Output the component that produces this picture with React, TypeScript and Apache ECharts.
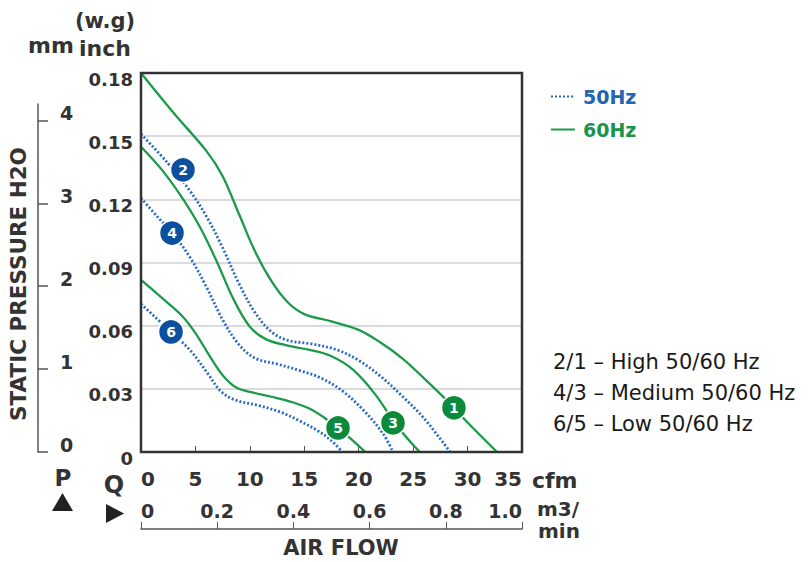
import React, { useEffect, useRef } from "react";
import * as echarts from "echarts";

// ---- data (x: cfm, y: inch H2O) ----
const cfmTicks = [0, 5, 10, 15, 20, 25, 30, 35];
const inchTicks = [0, 0.03, 0.06, 0.09, 0.12, 0.15, 0.18];
const mmTicks = [0, 1, 2, 3, 4];
const m3Ticks = [0, 0.2, 0.4, 0.6, 0.8, 1.0];

const curve1_60Hz_high = [[0, 0.18], [3, 0.161], [6, 0.143], [7.5, 0.131], [9, 0.113], [10.5, 0.095], [12, 0.081], [13.5, 0.071], [15, 0.0655], [17.5, 0.062], [20, 0.058], [22, 0.052], [24, 0.0445], [26, 0.035], [28, 0.025], [30, 0.014], [32.7, 0]];
const curve2_50Hz_high = [[0, 0.151], [2.5, 0.137], [4.5, 0.124], [6, 0.112], [7.5, 0.097], [9, 0.08], [10.5, 0.066], [12, 0.057], [13.5, 0.053], [15.5, 0.0515], [18, 0.0485], [20, 0.0435], [22, 0.036], [24, 0.0265], [26, 0.016], [28.4, 0]];
const curve3_60Hz_med = [[0, 0.145], [2, 0.1335], [4, 0.119], [5.5, 0.106], [7, 0.09], [8.5, 0.0725], [10, 0.0595], [11.5, 0.0535], [13.5, 0.0505], [15.5, 0.0485], [17.5, 0.0455], [19.5, 0.039], [21.5, 0.0275], [23.5, 0.0125], [25.6, 0]];
const curve4_50Hz_med = [[0, 0.1206], [1.5, 0.1118], [3, 0.1032], [4.5, 0.0925], [6, 0.0785], [7.5, 0.0628], [9, 0.051], [10.5, 0.0445], [12.5, 0.0418], [14.5, 0.0388], [16.5, 0.0352], [18.5, 0.029], [20.5, 0.0195], [22.2, 0.009], [23.15, 0]];
const curve5_60Hz_low = [[0, 0.0817], [2, 0.0728], [3.8, 0.0645], [5, 0.0565], [6.2, 0.0465], [7.5, 0.0365], [8.8, 0.0305], [10.3, 0.0282], [12.2, 0.026], [14, 0.0235], [15.5, 0.0205], [17, 0.0157], [18.5, 0.0098], [20.6, 0]];
const curve6_50Hz_low = [[0, 0.0703], [2.76, 0.057], [4.5, 0.0484], [6.1, 0.0375], [7.3, 0.029], [8.6, 0.0248], [10.7, 0.0222], [12.8, 0.019], [14.6, 0.0147], [16.2, 0.0102], [17.4, 0.0058], [18.5, 0]];

const blueMarkerLabels = ["2", "4", "6"];
const blueMarkerPos = [[3.86, 0.134], [2.85, 0.104], [2.76, 0.057]];
const greenMarkerLabels = ["1", "3", "5"];
const greenMarkerPos = [[28.75, 0.021], [23.15, 0.0138], [18.1, 0.0114]];

const legendNames = ["50Hz", "60Hz"];
const noteLines = ["2/1 – High 50/60 Hz", "4/3 – Medium 50/60 Hz", "6/5 – Low 50/60 Hz"];

const FONT = "DejaVu Sans";
const BLUE = "#2a6cc4";
const GREEN = "#1b9a4b";
const BLUE_DARK = "#0d4f9f";
const GREEN_DARK = "#0b8a3c";
const TXT = "#333";

export default function App() {
  const ref = useRef<HTMLDivElement>(null);
  useEffect(() => {
    if (!ref.current) return;
    const chart = echarts.init(ref.current, null, { renderer: "svg" });
    const solid = (name: string, data: number[][]) => ({
      type: "line", name, data, symbol: "none", smooth: 0.35,
      lineStyle: { color: GREEN, width: 2.3 }, itemStyle: { color: GREEN }, z: 3,
    });
    const dotted = (name: string, data: number[][]) => ({
      type: "line", name, data, symbol: "none", smooth: 0.35,
      lineStyle: { color: BLUE, width: 2.8, type: [2, 2] }, itemStyle: { color: BLUE }, z: 3,
    });
    const markers = (labels: string[], pos: number[][], color: string) => ({
      type: "scatter", name: "m" + labels[0], silent: true, symbol: "circle", symbolSize: 25, z: 6,
      data: labels.map((l, i) => ({ name: l, value: pos[i] })),
      itemStyle: { color, borderColor: "#fff", borderWidth: 1.5, opacity: 1 },
      label: { show: true, position: "inside", formatter: "{b}", color: "#fff", fontWeight: "bold", fontSize: 14, fontFamily: FONT },
    });
    const boldText = (text: string, x: number, y: number, size: number, align = "center") => ({
      type: "text", x, y,
      style: { text, fill: TXT, font: `bold ${size}px "${FONT}"`, textAlign: align, textVerticalAlign: "middle" },
    });
    const option: any = {
      animation: false,
      backgroundColor: "#fff",
      grid: [
        { left: 141, top: 73, width: 381, height: 379, show: true, borderColor: "#333", borderWidth: 2.5, z: 4 },
        { left: 38, top: 104, width: 10, height: 348 },
      ],
      legend: {
        data: [
          { name: legendNames[0], textStyle: { color: "#2563b3" } },
          { name: legendNames[1], textStyle: { color: "#1b944a" } },
        ],
        orient: "vertical", left: 545, top: 82, itemWidth: 24, itemHeight: 14, itemGap: 14,
        itemStyle: { opacity: 0, borderWidth: 0 },
        textStyle: { fontFamily: FONT, fontWeight: "bold", fontSize: 19, padding: [0, 0, 0, 3] },
        selectedMode: false,
      },
      xAxis: [
        {
          type: "value", gridIndex: 0, min: 0, max: 35, interval: 5,
          axisLine: { show: true, onZero: false, lineStyle: { color: "#333", width: 2 } },
          axisTick: { show: true, inside: true, length: 6, lineStyle: { color: "#555" }, customValues: cfmTicks },
          axisLabel: { margin: 17, fontSize: 20, fontWeight: "bold", fontFamily: FONT, color: TXT, customValues: cfmTicks, showMinLabel: true, showMaxLabel: true, alignMinLabel: "left", alignMaxLabel: "right" },
          splitLine: { show: false },
        },
        {
          type: "value", gridIndex: 0, position: "bottom", offset: 77, min: 0, max: 1, interval: 0.2,
          axisLine: { show: true, onZero: false, lineStyle: { color: "#555", width: 1.5 } },
          axisTick: { show: true, inside: true, length: 7, lineStyle: { color: "#555" }, customValues: m3Ticks },
          axisLabel: { inside: true, margin: 9, fontSize: 19, fontWeight: "bold", fontFamily: FONT, color: TXT, customValues: m3Ticks,
            formatter: (v: number) => (v === 0 ? "0" : v.toFixed(1)), showMinLabel: true, showMaxLabel: true, alignMinLabel: "left", alignMaxLabel: "right" },
          splitLine: { show: false },
        },
        { type: "value", gridIndex: 1, show: false, min: 0, max: 1 },
      ],
      yAxis: [
        {
          type: "value", gridIndex: 0, min: 0, max: 0.18, interval: 0.03,
          axisLine: { show: true, lineStyle: { color: "#333", width: 2 } },
          axisTick: { show: false },
          axisLabel: { margin: 8, fontSize: 18, fontWeight: "bold", fontFamily: FONT, color: TXT, verticalAlign: "top", lineHeight: 12, customValues: inchTicks,
            formatter: (v: number) => (v === 0 ? "0" : v.toFixed(2)) },
          splitLine: { show: true, showMinLine: false, showMaxLine: false, lineStyle: { color: "#cfcfcf", width: 1.5 } },
        },
        {
          type: "value", gridIndex: 1, position: "left", min: 0, max: 4.198, interval: 1,
          axisLine: { show: true, lineStyle: { color: "#555", width: 1.5 } },
          axisTick: { show: true, inside: true, length: 10, lineStyle: { color: "#555", width: 1.5 }, customValues: mmTicks },
          axisLabel: { inside: true, margin: 22, fontSize: 19, fontWeight: "bold", fontFamily: FONT, color: TXT, verticalAlign: "bottom", lineHeight: 14, customValues: mmTicks,
            formatter: (v: number) => (Number.isInteger(v) ? String(v) : "") },
          splitLine: { show: false },
        },
      ],
      series: [
        solid(legendNames[1], curve1_60Hz_high),
        dotted(legendNames[0], curve2_50Hz_high),
        solid(legendNames[1], curve3_60Hz_med),
        dotted(legendNames[0], curve4_50Hz_med),
        solid(legendNames[1], curve5_60Hz_low),
        dotted(legendNames[0], curve6_50Hz_low),
        markers(blueMarkerLabels, blueMarkerPos, BLUE_DARK),
        markers(greenMarkerLabels, greenMarkerPos, GREEN_DARK),
      ],
      graphic: [
        boldText("(w.g)", 105, 21, 21),
        boldText("mm", 51, 45, 22),
        boldText("inch", 105, 48, 22),
        {
          type: "text", x: 18, y: 284, rotation: Math.PI / 2,
          style: { text: "STATIC PRESSURE H2O", fill: TXT, font: `bold 21.5px "${FONT}"`, textAlign: "center", textVerticalAlign: "middle" },
        },
        boldText("P", 63, 478, 23),
        boldText("Q", 114, 485, 24),
        { type: "polygon", shape: { points: [[52, 511], [73, 511], [62.5, 493]] }, style: { fill: "#222" } },
        { type: "polygon", shape: { points: [[106, 504], [106, 523], [124, 513.5]] }, style: { fill: "#222" } },
        boldText("cfm", 532, 480, 22, "left"),
        boldText("m3/", 537, 509, 20, "left"),
        boldText("min", 538, 531, 20, "left"),
        boldText("AIR FLOW", 341, 548, 21),
        ...noteLines.map((t, i) => ({
          type: "text", x: 553, y: 362 + i * 31,
          style: { text: t, fill: "#1a1a1a", font: `21px "${FONT}"`, textAlign: "left", textVerticalAlign: "middle" },
        })),
      ],
    };
    chart.setOption(option);
    return () => chart.dispose();
  }, []);
  return <div ref={ref} style={{ position: "fixed", left: 0, top: 0, width: 809, height: 562, background: "#fff" }} />;
}
